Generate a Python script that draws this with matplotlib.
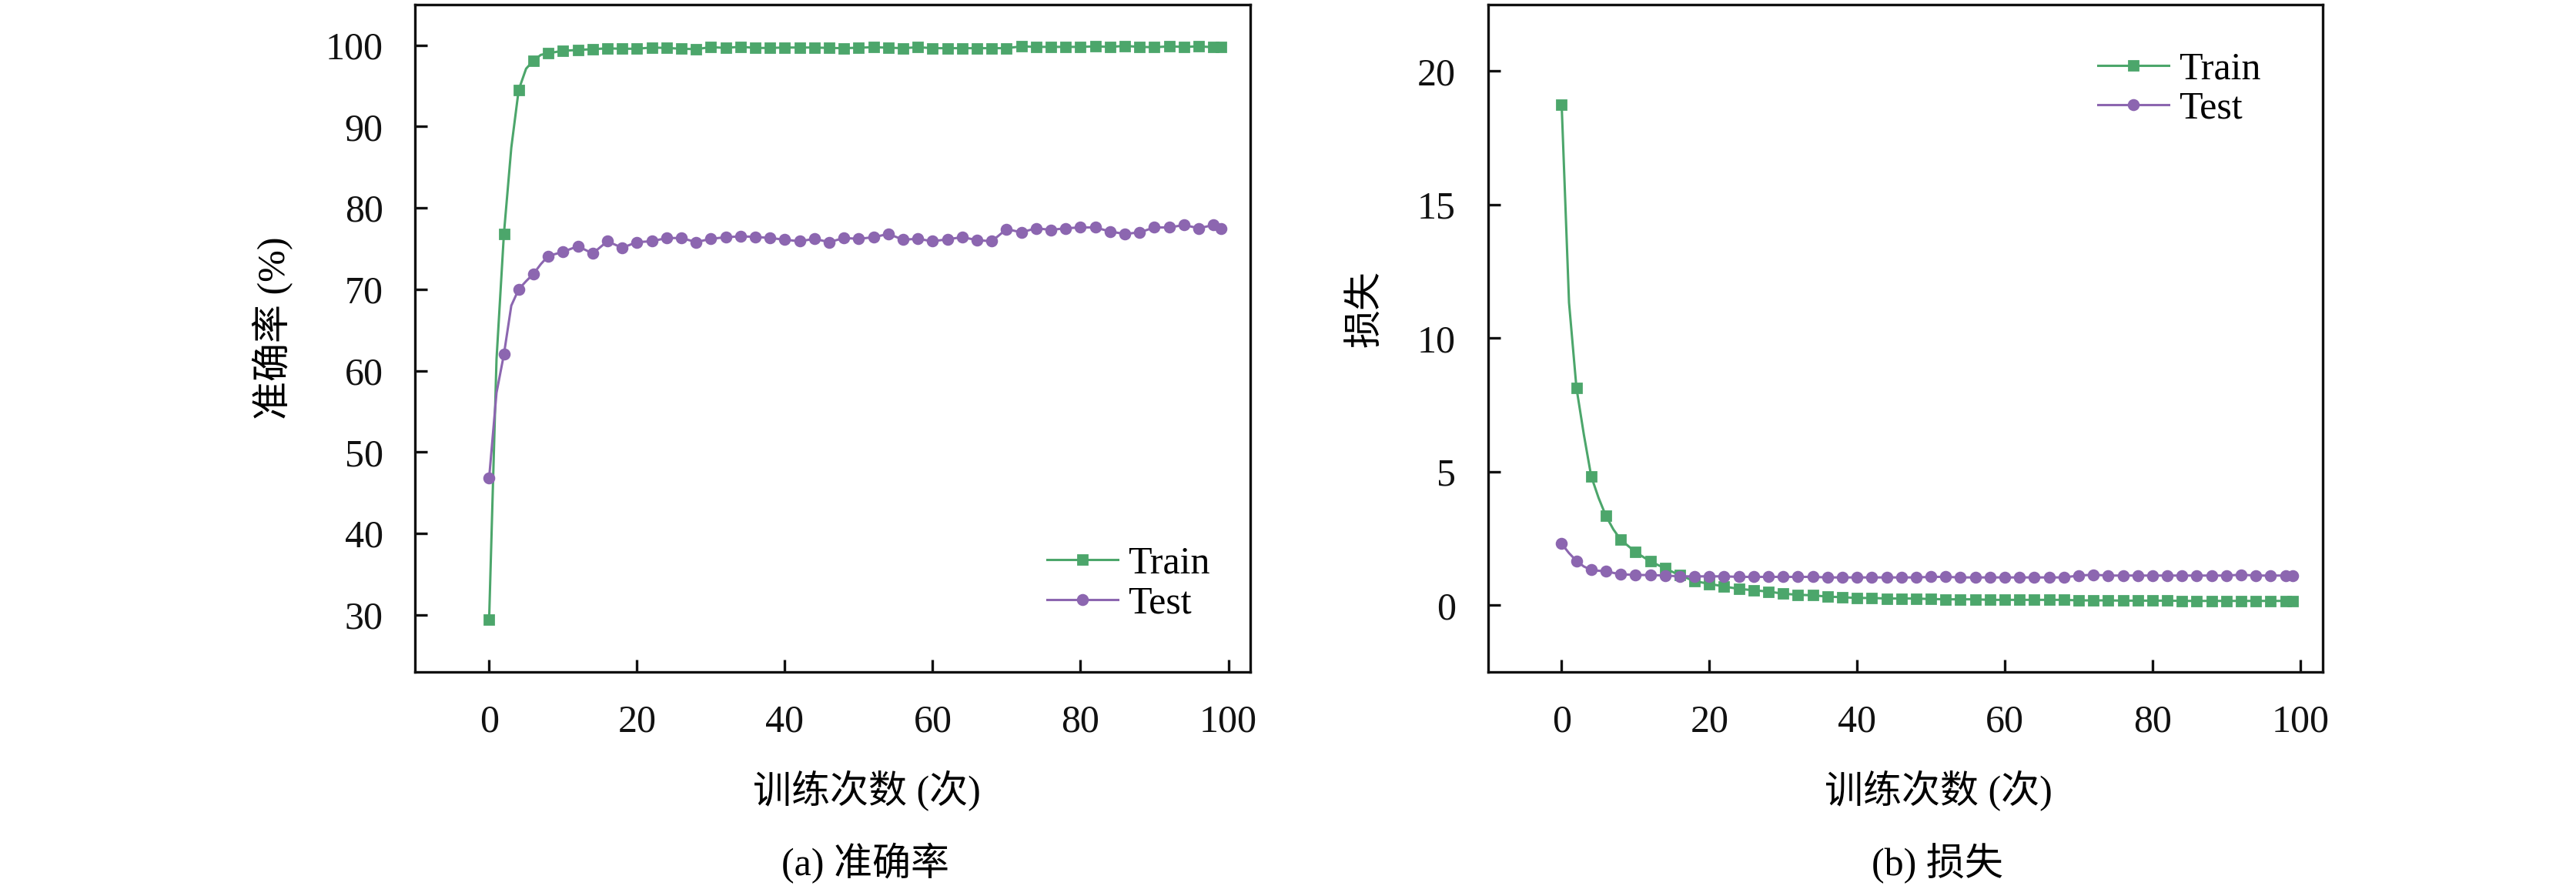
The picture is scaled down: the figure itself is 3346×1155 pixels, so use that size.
import matplotlib
matplotlib.use("Agg")
import matplotlib.pyplot as plt

plt.rcParams['font.family'] = ['Liberation Serif', 'Noto Sans CJK SC']

# epochs: every epoch at the start, then every 2nd, plus the last one
ep = [0, 1, 2, 3, 4, 5, 6, 7] + list(range(8, 100, 2)) + [99]

train_acc = [29.4, 61.4, 76.8, 87.4, 94.5, 97.1, 98.1, 98.8,
             99.0, 99.3, 99.4, 99.5, 99.6, 99.55, 99.55, 99.7, 99.65, 99.55,
             99.5, 99.75, 99.65, 99.8, 99.65, 99.65, 99.7, 99.7, 99.7, 99.65,
             99.62, 99.68, 99.74, 99.68, 99.62, 99.74, 99.62, 99.62, 99.62,
             99.62, 99.62, 99.62, 99.84, 99.78, 99.78, 99.78, 99.78, 99.84,
             99.78, 99.9, 99.78, 99.74, 99.84, 99.78, 99.84, 99.74, 99.74]
test_acc = [46.8, 57.3, 62.0, 68.0, 70.0, 71.0, 71.9, 73.1,
            74.1, 74.6, 75.3, 74.4, 75.9, 75.1, 75.8, 75.9, 76.3, 76.3,
            75.8, 76.2, 76.4, 76.5, 76.45, 76.3, 76.1, 75.9, 76.2, 75.8,
            76.3, 76.2, 76.4, 76.8, 76.1, 76.2, 75.9, 76.15, 76.4, 76.05,
            75.9, 77.4, 77.0, 77.5, 77.3, 77.5, 77.6, 77.6, 77.1, 76.8,
            77.0, 77.6, 77.6, 77.9, 77.5, 77.9, 77.5]
train_loss = [18.75, 11.33, 8.15, 6.4, 4.83, 4.02, 3.34, 2.84,
              2.45, 1.99, 1.64, 1.38, 1.12, 0.90, 0.80, 0.70, 0.61, 0.56,
              0.51, 0.43, 0.39, 0.37, 0.32, 0.30, 0.27, 0.27, 0.25, 0.25,
              0.25, 0.23, 0.22, 0.22, 0.22, 0.20, 0.20, 0.20, 0.20, 0.20,
              0.20, 0.18, 0.18, 0.18, 0.17, 0.17, 0.17, 0.17, 0.16, 0.16,
              0.16, 0.16, 0.16, 0.16, 0.16, 0.16, 0.16]
test_loss = [2.30, 1.95, 1.66, 1.45, 1.32, 1.29, 1.27, 1.21,
             1.16, 1.13, 1.13, 1.11, 1.08, 1.08, 1.08, 1.08, 1.06, 1.06,
             1.06, 1.06, 1.06, 1.06, 1.04, 1.04, 1.04, 1.04, 1.04, 1.04,
             1.04, 1.06, 1.06, 1.04, 1.04, 1.04, 1.04, 1.04, 1.04, 1.04,
             1.04, 1.11, 1.14, 1.11, 1.11, 1.11, 1.11, 1.11, 1.11, 1.11,
             1.11, 1.11, 1.14, 1.11, 1.11, 1.11, 1.11]

green = '#4CA66B'
purple = '#8C66B0'
fs = 18

# markers only on the recorded (even) epochs and the final one
marks = [i for i, e in enumerate(ep) if e % 2 == 0 or e == 99]

fig = plt.figure(figsize=(16.73, 5.775), dpi=200)
ax1 = fig.add_axes([0.16118, 0.24416, 0.32427, 0.75091])
ax2 = fig.add_axes([0.57756, 0.24416, 0.32397, 0.75091])


def style(ax, yticks, ylim):
    ax.set_xlim(-10, 103)
    ax.set_ylim(*ylim)
    ax.set_xticks([0, 20, 40, 60, 80, 100])
    ax.set_yticks(yticks)
    ax.tick_params(direction='in', length=5.8, width=1.2, pad=15,
                   labelsize=fs, top=False, right=False, colors='#111111')
    for s in ax.spines.values():
        s.set_linewidth(1.2)
        s.set_color('#111111')


def curves(ax, y_train, y_test):
    ax.plot(ep, y_train, color=green, lw=1.1, marker='s', ms=4.4,
            markevery=marks, label='Train')
    ax.plot(ep, y_test, color=purple, lw=1.1, marker='o', ms=4.6,
            markevery=marks, label='Test')


curves(ax1, train_acc, test_acc)
style(ax1, [30, 40, 50, 60, 70, 80, 90, 100], (23, 105))
ax1.set_xlabel('训练次数 (次)', fontsize=fs, va='center')
ax1.xaxis.set_label_coords(0.5406, -0.1786)
ax1.set_ylabel('准确率 (%)', fontsize=fs, va='center', ha='center')
ax1.yaxis.set_label_coords(-0.1698, 0.5154)
ax1.legend(loc='upper left', bbox_to_anchor=(0.7564, 0.189), frameon=False,
           borderpad=0, borderaxespad=0, handlelength=1.84,
           handletextpad=0.26, labelspacing=0.1, fontsize=fs)

curves(ax2, train_loss, test_loss)
style(ax2, [0, 5, 10, 15, 20], (-2.5, 22.5))
ax2.set_xlabel('训练次数 (次)', fontsize=fs, va='center')
ax2.xaxis.set_label_coords(0.5398, -0.1786)
ax2.set_ylabel('损失', fontsize=fs, va='center', ha='center')
ax2.yaxis.set_label_coords(-0.1452, 0.5438)
ax2.legend(loc='upper left', bbox_to_anchor=(0.7307, 0.9294), frameon=False,
           borderpad=0, borderaxespad=0, handlelength=1.84,
           handletextpad=0.26, labelspacing=0.1, fontsize=fs)

fig.text(1124 / 3346, 1 - 1122 / 1155, '(a) 准确率', ha='center', va='center',
         fontsize=fs)
fig.text(2516 / 3346, 1 - 1122 / 1155, '(b) 损失', ha='center', va='center',
         fontsize=fs)

fig.savefig('out.png', dpi=200)
